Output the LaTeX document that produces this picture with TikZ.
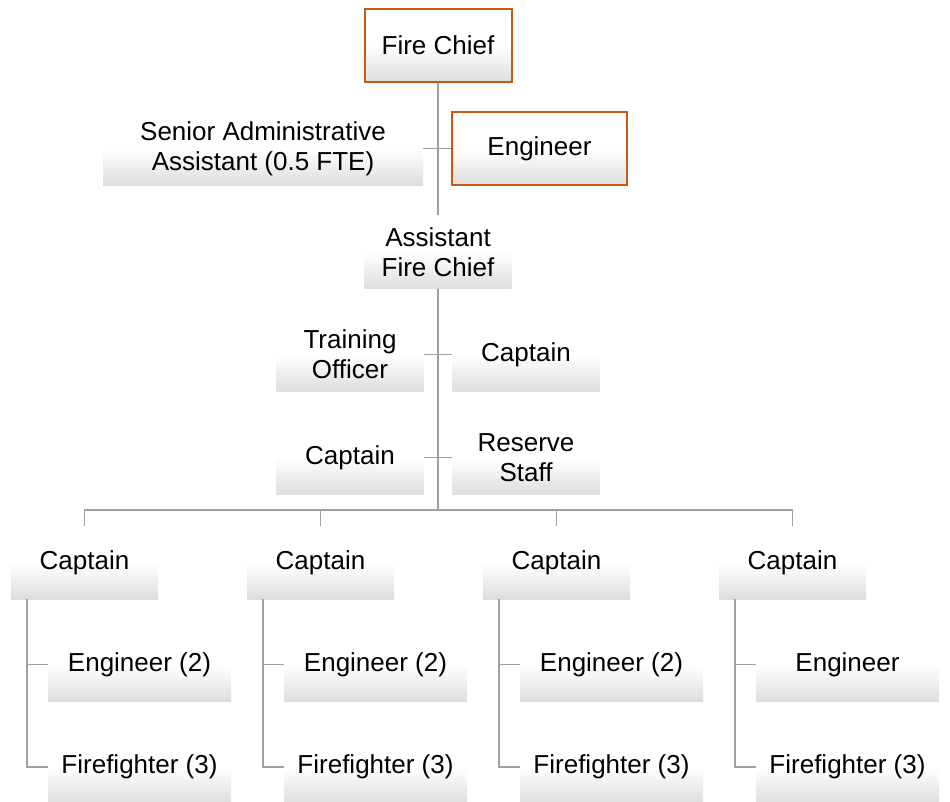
\documentclass[tikz,border=0pt]{standalone}
\usepackage{fontspec}
\setmainfont{Liberation Sans}
\usetikzlibrary{positioning,calc}
\definecolor{chieforange}{RGB}{197,90,17}
\definecolor{linkgray}{RGB}{160,160,160}
\definecolor{shadegray}{RGB}{222,222,222}

\begin{document}
\begin{tikzpicture}[x=1pt, y=-1pt,
  box/.style={minimum width=147pt, minimum height=73pt, align=center, inner sep=0pt, top color=white, bottom color=shadegray, middle color=white, font=\fontsize{26}{30}\selectfont},
  lead/.style={box, draw=chieforange, line width=2pt},
  wide/.style={box, minimum width=183pt},
  link/.style={draw=linkgray, line width=1.5pt},
]
  \useasboundingbox (0,0) rectangle (950,801);

  % top of the chart
  \node[lead] (chief) at (438,45) {Fire Chief};
  \node[box, minimum width=320pt] (admin) at (263,148.5) {Senior Administrative\\Assistant (0.5 FTE)};
  \node[lead, minimum width=175pt] (eng) at (539.5,148.5) {Engineer};
  \node[box] (afc) at (438,252) {Assistant\\Fire Chief};
  \node[box] (train) at (350,354.5) {Training\\Officer};
  \node[box] (capA) at (526,354.5) {Captain};
  \node[box] (capB) at (350,457.5) {Captain};
  \node[box] (reserve) at (526,457.5) {Reserve\\Staff};
  \coordinate (bus) at (438,510);

  \draw[link] (chief) -- (afc);
  \draw[link] (afc) -- (bus);
  \draw[link] (admin.east) -- (eng.west);
  \draw[link] (train.east) -- (capA.west);
  \draw[link] (capB.east) -- (reserve.west);

  % stations
  \foreach \i/\x/\e in {1/84.5/{Engineer (2)}, 2/320.5/{Engineer (2)}, 3/556.5/{Engineer (2)}, 4/792.5/{Engineer}} {
    \node[box] (cap\i) at (\x,562.5) {Captain};
    \node[wide] (eng\i) at (\x+55,664.5) {\e};
    \node[wide] (ff\i) at (\x+55,767) {Firefighter (3)};
    \draw[link] (cap\i.north) |- (bus);
    \draw[link] ([xshift=16pt]cap\i.south west) |- (eng\i.west);
    \draw[link] ([xshift=16pt]cap\i.south west) |- (ff\i.west);
  }
\end{tikzpicture}
\end{document}
